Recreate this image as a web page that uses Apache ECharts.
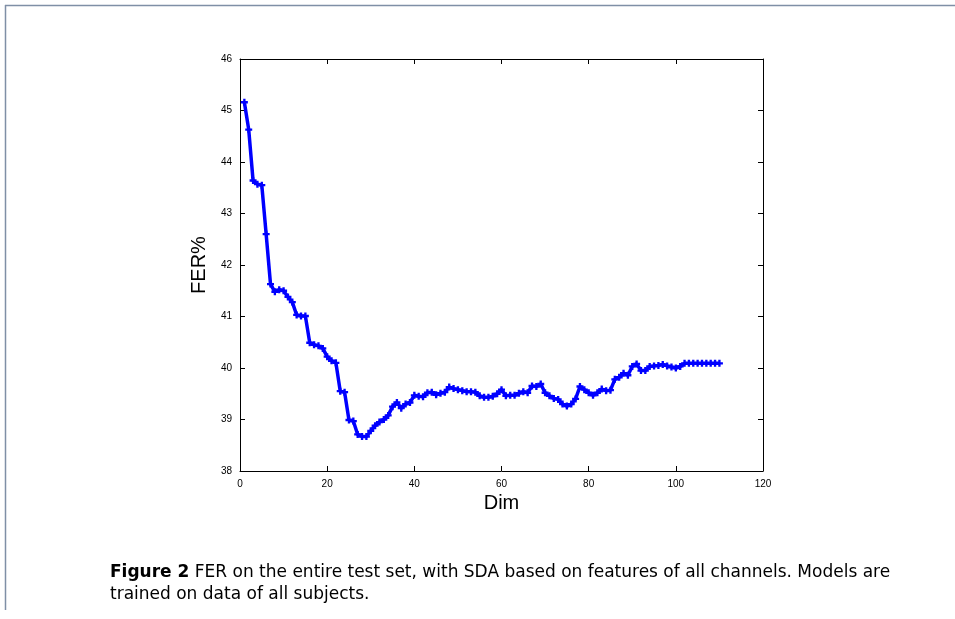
<!DOCTYPE html>
<html>
<head>
<meta charset="utf-8">
<script src="https://cdn.jsdelivr.net/npm/echarts@6/dist/echarts.min.js"></script>
<style>
  html, body { margin: 0; padding: 0; background: #fff; }
  #main { width: 955px; height: 619px; }
</style>
</head>
<body>
<div id="main"></div>
<script>
// FER (%) for every feature dimension 1..110
var dims = [];
for (var d = 1; d <= 110; d++) dims.push(d);

var fer = [
  45.16, 44.63, 43.64, 43.57, 43.55, 42.60, 41.63, 41.48, 41.52, 41.50,
  41.38, 41.28, 41.03, 41.01, 41.01, 40.49, 40.45, 40.43, 40.38, 40.22,
  40.14, 40.10, 39.55, 39.53, 38.99, 38.97, 38.71, 38.67, 38.67, 38.78,
  38.88, 38.95, 39.00, 39.08, 39.25, 39.33, 39.22, 39.30, 39.33, 39.47,
  39.45, 39.44, 39.52, 39.53, 39.48, 39.51, 39.53, 39.63, 39.60, 39.58,
  39.56, 39.54, 39.54, 39.53, 39.46, 39.43, 39.43, 39.45, 39.50, 39.58,
  39.46, 39.47, 39.47, 39.51, 39.54, 39.52, 39.65, 39.64, 39.69, 39.52,
  39.46, 39.41, 39.39, 39.30, 39.26, 39.30, 39.40, 39.64, 39.58, 39.52,
  39.47, 39.52, 39.59, 39.56, 39.57, 39.78, 39.82, 39.90, 39.86, 40.03,
  40.08, 39.95, 39.95, 40.03, 40.04, 40.05, 40.07, 40.04, 40.02, 40.00,
  40.03, 40.09, 40.09, 40.09, 40.09, 40.09, 40.09, 40.09, 40.09, 40.09
];

var xTicks = [0, 20, 40, 60, 80, 100, 120];
var yTicks = [38, 39, 40, 41, 42, 43, 44, 45, 46];

var captionBold = 'Figure 2';
var captionLine1 = 'FER on the entire test set, with SDA based on features of all channels. Models are';
var captionLine2 = 'trained on data of all subjects.';

var points = dims.map(function (x, i) { return [x, fer[i]]; });

var font = 'Liberation Sans, Arial, Helvetica, sans-serif';
var capFont = 'DejaVu Sans, sans-serif';
var frameColor = '#7f8fa6';

function axisCommon(showLabel) {
  return {
    axisLine: { show: true, onZero: false, lineStyle: { color: '#000', width: 1 } },
    axisTick: { show: true, inside: true, length: 5, lineStyle: { color: '#000' } },
    axisLabel: { show: showLabel, color: '#000', fontSize: 10, fontFamily: font },
    splitLine: { show: false }
  };
}

var chart = echarts.init(document.getElementById('main'));
chart.setOption({
  backgroundColor: '#fff',
  animation: false,
  grid: { left: 240, right: 192, top: 59, bottom: 148 },
  xAxis: [
    Object.assign(axisCommon(true), {
      type: 'value', min: xTicks[0], max: xTicks[xTicks.length - 1], interval: 20,
      position: 'bottom',
      name: 'Dim', nameLocation: 'middle', nameGap: 22,
      nameTextStyle: { fontSize: 20, color: '#000', fontFamily: font }
    }),
    Object.assign(axisCommon(false), {
      type: 'value', min: xTicks[0], max: xTicks[xTicks.length - 1], interval: 20,
      position: 'top'
    })
  ],
  yAxis: [
    Object.assign(axisCommon(true), {
      type: 'value', min: yTicks[0], max: yTicks[yTicks.length - 1], interval: 1,
      position: 'left',
      name: 'FER%', nameLocation: 'middle', nameGap: 18,
      nameTextStyle: { fontSize: 20, color: '#000', fontFamily: font }
    }),
    Object.assign(axisCommon(false), {
      type: 'value', min: yTicks[0], max: yTicks[yTicks.length - 1], interval: 1,
      position: 'right'
    })
  ],
  series: [{
    type: 'line',
    data: points,
    xAxisIndex: 0,
    yAxisIndex: 0,
    symbol: 'path://M2,0H4V2H6V4H4V6H2V4H0V2H2Z',
    symbolSize: 7,
    showAllSymbol: true,
    lineStyle: { color: '#0000ff', width: 3.5 },
    itemStyle: { color: '#0000ff', borderWidth: 0 }
  }],
  graphic: [
    { type: 'line', shape: { x1: 5, y1: 5.5, x2: 955, y2: 5.5 }, style: { stroke: frameColor, lineWidth: 1.5 } },
    { type: 'line', shape: { x1: 5.5, y1: 5, x2: 5.5, y2: 610 }, style: { stroke: frameColor, lineWidth: 1.5 } },
    {
      type: 'text', left: 110, top: 564,
      style: {
        text: '{b|' + captionBold + '} ' + captionLine1,
        font: '17px ' + capFont, fill: '#000',
        rich: { b: { fontWeight: 'bold', fontSize: 17, fontFamily: capFont } }
      }
    },
    {
      type: 'text', left: 110, top: 586,
      style: { text: captionLine2, font: '17px ' + capFont, fill: '#000' }
    }
  ]
});
</script>
</body>
</html>
